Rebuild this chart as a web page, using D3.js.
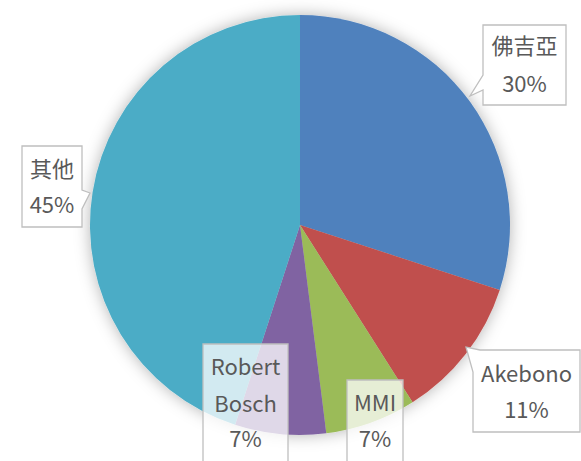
<!DOCTYPE html>
<html>
<head>
<meta charset="utf-8">
<script src="https://cdn.jsdelivr.net/npm/d3@7"></script>
<style>
  body { margin:0; background:#fff; }
  text { font-family: "Noto Sans CJK TC", "Noto Sans", sans-serif; fill:#595959; }
</style>
</head>
<body>
<div id="chart"></div>
<script>
// slice data
var names = ["佛吉亞", "Akebono", "MMI", "Robert Bosch", "其他"];
var shares = [30, 11, 7, 7, 45];
var sliceColors = ["#4f81bd", "#c0504d", "#9bbb59", "#8064a2", "#4bacc6"];

var width = 581, height = 461;
var cx = 300, cy = 225, radius = 210;

var svg = d3.select("#chart").append("svg")
    .attr("width", width)
    .attr("height", height);

// soft glow behind the pie
var defs = svg.append("defs");
var f = defs.append("filter").attr("id", "glow")
    .attr("x", "-20%").attr("y", "-20%").attr("width", "140%").attr("height", "140%");
f.append("feGaussianBlur").attr("in", "SourceAlpha").attr("stdDeviation", 8).attr("result", "b");
f.append("feFlood").attr("flood-color", "#000").attr("flood-opacity", 0.3);
f.append("feComposite").attr("in2", "b").attr("operator", "in").attr("result", "s");
var m = f.append("feMerge");
m.append("feMergeNode").attr("in", "s");
m.append("feMergeNode").attr("in", "SourceGraphic");

var color = d3.scaleOrdinal().domain(names).range(sliceColors);

var pie = d3.pie().sort(null).value(function(d) { return d.v; });
var arc = d3.arc().innerRadius(0).outerRadius(radius);

var data = names.map(function(n, i) { return {name: n, v: shares[i]}; });
var arcs = pie(data);

var g = svg.append("g").attr("transform", "translate(" + cx + "," + cy + ")");
g.append("g").attr("filter", "url(#glow)")
  .selectAll("path")
  .data(arcs).enter()
  .append("path")
  .attr("d", arc)
  .attr("fill", function(d) { return color(d.data.name); });

// callout boxes (hand placed like in the original sheet)
// box: x, y, w, h ; notch: points of the pointer ; lines: text rows
var callouts = [
  {box:[483,25,83,80], notch:[[483,75],[470,96],[483,90]], lines:["佛吉亞", "30%"], ty:[48,86], op:1},
  {box:[473,350,107,82], notch:[[473,372],[466,347],[480,350]], lines:["Akebono", "11%"], ty:[376,412], op:1},
  {box:[347,380,56,90], notch:null, lines:["MMI", "7%"], ty:[405,441], op:0.75},
  {box:[203,344,85,130], notch:null, lines:["Robert", "Bosch", "7%"], ty:[369,406,441], op:0.75},
  {box:[22,146,60,81], notch:[[82,190],[90,193],[82,209]], lines:["其他", "45%"], ty:[171,207], op:1}
];

function boxPath(c) {
  var x = c.box[0], y = c.box[1], w = c.box[2], h = c.box[3];
  if (!c.notch) {
    return "M" + x + "," + y + "H" + (x + w) + "V" + (y + h) + "H" + x + "Z";
  }
  var n = c.notch;
  if (n[0][0] === x && n[2][1] === y) {
    // notch at top-left corner
    return "M" + n[2][0] + "," + y + "H" + (x + w) + "V" + (y + h) + "H" + x +
      "V" + n[0][1] + "L" + n[1][0] + "," + n[1][1] + "Z";
  }
  if (n[0][0] === x) {
    // notch on left edge
    return "M" + x + "," + y + "H" + (x + w) + "V" + (y + h) + "H" + x +
      "V" + n[2][1] + "L" + n[1][0] + "," + n[1][1] + "L" + x + "," + n[0][1] + "Z";
  }
  // notch on right edge
  return "M" + x + "," + y + "H" + (x + w) + "V" + n[0][1] + "L" + n[1][0] + "," + n[1][1] +
    "L" + (x + w) + "," + n[2][1] + "V" + (y + h) + "H" + x + "Z";
}

var cg = svg.append("g").selectAll("g").data(callouts).enter().append("g");
cg.append("path")
  .attr("d", boxPath)
  .attr("fill", "#fff")
  .attr("fill-opacity", function(d) { return d.op; })
  .attr("stroke", "#bfbfbf")
  .attr("stroke-width", 1.3);

cg.each(function(c) {
  var el = d3.select(this);
  c.lines.forEach(function(t, i) {
    el.append("text")
      .attr("x", c.box[0] + c.box[2] / 2)
      .attr("y", c.ty[i])
      .attr("text-anchor", "middle")
      .attr("dominant-baseline", "middle")
      .style("font-size", "22px")
      .text(t);
  });
});
</script>
</body>
</html>
